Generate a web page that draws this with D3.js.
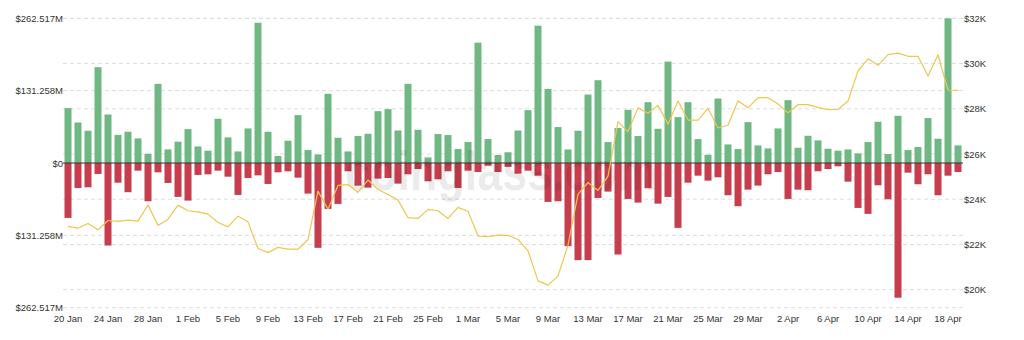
<!DOCTYPE html>
<html>
<head>
<meta charset="utf-8">
<script src="https://cdn.jsdelivr.net/npm/d3@7"></script>
<style>
  html, body { margin: 0; padding: 0; background: #fff; }
  svg { display: block; font-family: "Liberation Sans", Arial, Helvetica, sans-serif; }
</style>
</head>
<body>
<svg id="chart" width="1024" height="340"></svg>
<script>
// ---- data ----
const startDate = new Date(2023, 0, 20);
const endDate = new Date(2023, 3, 20);
const dates = d3.timeDay.range(startDate, endDate); // 20 Jan .. 19 Apr

// inflow (green, $M)
const inflow = [
  99.6, 73.5, 58.5, 173.8, 88, 51, 56.7, 44.6, 16.8, 143.6, 24.7, 38.6,
  61.5, 30, 22.3, 80.2, 46.4, 21, 62.7, 254.5, 56.7, 12.7, 40.4, 86.9, 23.5, 15.6, 125.5, 45.8, 21, 48.9, 53, 94.1, 97.8, 59, 143.6, 60.3, 10.1, 52.5, 50.7, 25.3,
  38, 218.3, 43.4, 14.5, 19.5, 59, 95.9, 249.1, 134.5, 65.2, 24.6, 58.5, 124.2, 150.2, 38, 63.4, 96.5, 48.9, 110.4, 62.1, 184, 83.3, 110.4, 43.4, 15, 117, 33.7, 25.3, 74.2, 31.9, 26.5,
  62.7, 114, 27.7, 49.4, 41, 25.9, 22.3, 24.6, 17.4, 38, 74.8, 16.3, 85.6, 23.5, 29, 81.5, 44, 262.5, 31.9
];
// outflow (red, $M, drawn below zero)
const outflow = [
  99.6, 45.3, 44, 19.9, 149.7, 35.7, 53, 13.9, 69.4, 16.9, 36.2, 61.5,
  68.2, 21.7, 20.5, 13.9, 24.8, 57.9, 27.2, 22.4, 38, 16.9, 15.1, 26.6, 55.5, 153.9, 83.3, 74.2, 15, 41, 44.7, 28.4, 27.2, 37.4, 20.5, 10.9, 33.2, 29.6, 15, 45.3,
  13.9, 16.3, 4.8, 16.3, 7, 19.3, 13.9, 23, 70.6, 69.4, 150.8, 176.2, 176.2, 63.4, 51.9, 166, 65.2, 71.8, 45.8, 73.7, 61.5, 117.7, 35.7, 23, 32, 25.9, 58.5, 78.4, 48.3, 41, 20.5,
  16.3, 65.2, 48.3, 49.4, 15, 10.9, 6, 33.8, 81.5, 92.3, 40.4, 65.8, 244.4, 17.5, 38.6, 20.5, 58.5, 23, 16.3
];
// BTC price ($K)
const price = [
  22.8, 22.72, 22.93, 22.65, 23.06, 23.02, 23.08, 23.03, 23.75, 22.84, 23.12, 23.74,
  23.49, 23.44, 23.34, 22.97, 22.78, 23.25, 23.0, 21.82, 21.64, 21.87, 21.79, 21.79, 22.22, 24.36, 23.56, 24.61, 24.65, 24.30, 24.85, 24.43, 24.21, 23.96, 23.19, 23.15, 23.55, 23.49, 23.15, 23.64,
  23.47, 22.37, 22.35, 22.41, 22.40, 22.22, 21.72, 20.39, 20.2, 20.6, 21.97, 24.21, 24.74, 24.39, 25.02, 27.43, 26.98, 28.04, 27.8, 28.15, 27.32, 28.34, 27.5, 27.5, 28.02, 27.15, 27.27, 28.35, 28.04, 28.49, 28.49,
  28.21, 27.82, 28.18, 28.18, 28.06, 27.96, 27.97, 28.34, 29.67, 30.21, 29.92, 30.39, 30.46, 30.32, 30.32, 29.45, 30.39, 28.83, 28.81
];

const leftTickValues = [262.517, 131.258, 0, -131.258, -262.517];
const leftTickLabels = ["$262.517M", "$131.258M", "$0", "$131.258M", "$262.517M"];
const rightTickValues = [32, 30, 28, 26, 24, 22, 20];
const rightTickLabels = ["$32K", "$30K", "$28K", "$26K", "$24K", "$22K", "$20K"];
const xTickEvery = 4;
const watermark = "coinglass.com";

// ---- layout ----
const plotLeft = 63, plotRight = 963, plotTop = 18.3, plotBottom = 307.7;
const svg = d3.select("#chart");

const x = d3.scaleBand().domain(d3.range(dates.length)).range([plotLeft, plotRight])
  .paddingInner(0.3).paddingOuter(0.15);
const yL = d3.scaleLinear().domain([-262.517, 262.517]).range([plotBottom, plotTop]);
const yR = d3.scaleLinear().domain([19.204, 32]).range([plotBottom, plotTop]);
const fmt = d3.timeFormat("%-d %b");

// gridlines
const grid = svg.append("g").attr("stroke", "#dedede").attr("stroke-dasharray", "4,3").attr("stroke-width", 1);
leftTickValues.filter(v => v !== 0).forEach(v => {
  grid.append("line").attr("x1", plotLeft).attr("x2", plotRight).attr("y1", yL(v)).attr("y2", yL(v));
});
rightTickValues.forEach(v => {
  grid.append("line").attr("x1", plotLeft).attr("x2", plotRight).attr("y1", yR(v)).attr("y2", yR(v));
});

// bars
svg.append("g").selectAll("rect").data(inflow).join("rect")
  .attr("x", (d, i) => x(i)).attr("width", x.bandwidth())
  .attr("y", d => yL(d)).attr("height", d => yL(0) - yL(d))
  .attr("fill", "#6fb884");
svg.append("g").selectAll("rect").data(outflow).join("rect")
  .attr("x", (d, i) => x(i)).attr("width", x.bandwidth())
  .attr("y", yL(0)).attr("height", d => yL(-d) - yL(0))
  .attr("fill", "#c63d4d");

// zero line
svg.append("line").attr("x1", plotLeft).attr("x2", plotRight).attr("y1", yL(0)).attr("y2", yL(0))
  .attr("stroke", "#333").attr("stroke-width", 1);

// watermark
svg.append("text").text(watermark)
  .attr("x", 345).attr("y", 190)
  .attr("font-size", 56).attr("font-weight", "bold")
  .attr("textLength", 312).attr("lengthAdjust", "spacingAndGlyphs")
  .attr("fill", "#000").attr("fill-opacity", 0.08);

// price line
const line = d3.line().x((d, i) => x(i) + x.bandwidth() / 2).y(d => yR(d));
svg.append("path").datum(price).attr("d", line)
  .attr("fill", "none").attr("stroke", "#efc652").attr("stroke-width", 1.2)
  .attr("stroke-linejoin", "round");

// axes
const axL = d3.axisLeft(yL).tickValues(leftTickValues).tickSize(0).tickPadding(0)
  .tickFormat((d, i) => leftTickLabels[i]);
const gL = svg.append("g").attr("transform", `translate(${plotLeft},0)`).call(axL);
const axR = d3.axisRight(yR).tickValues(rightTickValues).tickSize(0).tickPadding(1)
  .tickFormat((d, i) => rightTickLabels[i]);
const gR = svg.append("g").attr("transform", `translate(${plotRight},0)`).call(axR);
const axB = d3.axisBottom(x).tickValues(d3.range(0, dates.length, xTickEvery)).tickSize(0).tickPadding(8)
  .tickFormat(i => fmt(dates[i]));
const gB = svg.append("g").attr("transform", `translate(0,${plotBottom})`).call(axB);

[gL, gR, gB].forEach(g => {
  g.select(".domain").remove();
  g.selectAll("text").attr("fill", "#333").attr("font-size", 9.5)
    .attr("font-family", '"Liberation Sans", Arial, Helvetica, sans-serif');
});
</script>
</body>
</html>
